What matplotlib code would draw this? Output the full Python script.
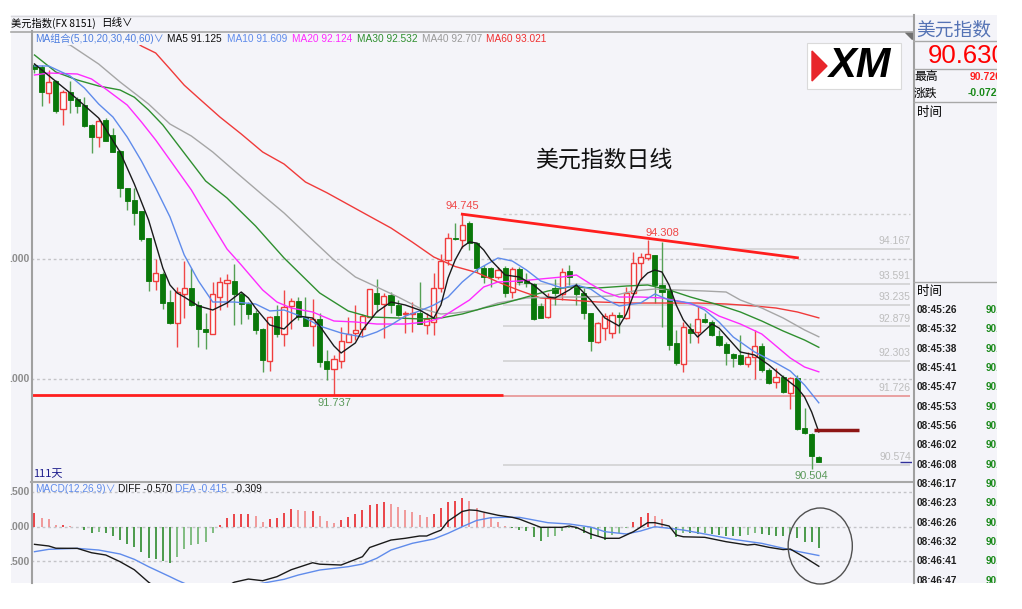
import matplotlib
matplotlib.use("Agg")
import matplotlib.pyplot as plt
from matplotlib.patches import Rectangle, Polygon, Ellipse

plt.rcParams['font.family'] = ['Liberation Sans', 'Noto Sans CJK SC', 'DejaVu Sans']
CJK = ['Noto Sans CJK SC', 'DejaVu Sans']

W, H = 1022, 609
BG = '#F4F4F9'

# ---------------- data ----------------
open_ = [97.225, 97.197, 96.765, 96.959, 96.489, 96.781, 96.660, 96.560, 96.228, 96.033,
         96.311, 96.062, 95.796, 95.175, 94.981, 94.798, 94.344, 93.639, 93.746, 93.280,
         92.941, 93.413, 93.523, 93.235, 92.836, 92.748, 93.363, 93.596, 93.639, 93.418,
         93.252, 93.097, 92.836, 92.309, 93.052, 92.753, 93.219, 93.302, 93.031, 92.886,
         92.998, 92.304, 92.166, 92.309, 92.625, 92.775, 92.831, 93.041, 93.440, 93.247,
         93.402, 93.235, 93.086, 93.086, 93.107, 92.903, 92.958, 93.523, 93.983, 94.357,
         94.316, 94.594, 94.261, 93.845, 93.850, 93.696, 93.845, 93.456, 93.829, 93.651,
         93.579, 93.219, 93.041, 93.513, 93.418, 93.801, 93.568, 93.430, 93.097, 92.625,
         92.848, 92.775, 93.069, 93.014, 93.430, 93.929, 94.012, 94.067, 93.568, 93.485,
         92.599, 92.254, 92.831, 92.791, 93.003, 92.958, 92.720, 92.587, 92.416, 92.404,
         92.254, 92.376, 92.554, 92.155, 91.950, 92.043, 91.767, 92.017, 91.185, 91.091,
         90.703]
high = [97.264, 97.225, 97.142, 96.970, 96.810, 96.964, 96.698, 96.698, 96.240, 96.339,
        96.339, 96.178, 95.812, 95.180, 95.175, 94.800, 94.350, 94.000, 93.789, 93.485,
        93.539, 93.972, 93.845, 93.302, 93.097, 93.623, 93.706, 93.751, 93.912, 93.456,
        93.290, 93.152, 92.848, 93.052, 93.235, 93.485, 93.357, 93.373, 93.363, 93.330,
        93.107, 92.487, 92.404, 92.874, 93.031, 93.235, 93.086, 93.500, 93.668, 93.440,
        93.456, 93.318, 93.140, 93.290, 93.613, 93.107, 93.762, 94.083, 94.427, 94.594,
        94.745, 94.637, 94.288, 93.900, 93.862, 93.872, 93.884, 93.872, 93.872, 93.762,
        93.596, 93.264, 93.430, 93.663, 93.845, 93.900, 93.596, 93.513, 93.107, 92.958,
        93.107, 93.124, 93.124, 93.539, 94.121, 94.095, 94.308, 94.070, 94.288, 93.513,
        92.820, 92.958, 92.931, 93.219, 93.097, 92.986, 92.820, 92.625, 92.442, 92.737,
        92.459, 92.820, 92.599, 92.183, 92.183, 92.071, 92.043, 92.071, 91.518, 91.102,
        90.720]
low = [97.097, 96.544, 96.589, 96.422, 96.223, 96.422, 96.422, 96.200, 95.757, 95.867,
       95.960, 95.780, 95.036, 94.815, 94.565, 94.304, 93.468, 93.485, 93.169, 92.925,
       92.532, 93.014, 93.224, 92.542, 92.499, 92.745, 93.152, 93.207, 92.903, 92.914,
       92.998, 92.753, 92.116, 92.143, 92.698, 92.554, 92.831, 92.986, 92.885, 92.554,
       92.209, 91.988, 91.737, 92.193, 92.620, 92.653, 92.708, 93.035, 93.124, 92.692,
       93.097, 93.052, 92.775, 92.791, 92.915, 92.753, 92.737, 93.456, 93.900, 94.316,
       94.178, 94.150, 93.789, 93.596, 93.539, 93.663, 93.363, 93.347, 93.568, 93.539,
       92.986, 93.014, 93.014, 93.235, 93.318, 93.568, 93.235, 92.998, 92.471, 92.599,
       92.653, 92.682, 92.765, 93.010, 93.425, 93.651, 93.983, 93.264, 92.874, 92.487,
       92.238, 92.126, 92.599, 92.609, 92.931, 92.720, 92.554, 92.238, 92.209, 92.238,
       92.209, 92.000, 92.126, 91.922, 91.850, 91.767, 91.501, 91.157, 91.091, 90.504,
       90.630]
close = [97.154, 96.776, 96.948, 96.461, 96.781, 96.643, 96.544, 96.211, 96.033, 96.299,
         95.967, 95.784, 95.175, 94.964, 94.770, 94.328, 93.634, 93.762, 93.264, 92.931,
         93.446, 93.513, 93.230, 92.831, 92.791, 93.418, 93.613, 93.651, 93.418, 93.247,
         93.086, 92.820, 92.321, 93.041, 92.753, 93.207, 93.302, 93.031, 92.891, 93.003,
         92.283, 92.171, 92.333, 92.637, 92.753, 92.820, 93.052, 93.496, 93.247, 93.385,
         93.235, 93.069, 93.097, 93.107, 92.919, 93.003, 93.523, 93.967, 94.344, 94.333,
         94.565, 94.271, 93.845, 93.696, 93.701, 93.817, 93.430, 93.829, 93.623, 93.596,
         92.998, 93.024, 93.373, 93.430, 93.789, 93.706, 93.418, 93.107, 92.642, 92.941,
         93.052, 93.069, 93.041, 93.440, 93.929, 94.038, 94.083, 93.568, 93.456, 92.570,
         92.266, 92.865, 92.775, 92.998, 92.958, 92.737, 92.570, 92.432, 92.349, 92.254,
         92.376, 92.554, 92.155, 91.934, 92.033, 91.794, 92.017, 91.169, 91.102, 90.725,
         90.630]

ma5_i = [0, 5, 9, 12, 14, 16, 18, 19, 20, 21, 23, 25, 27, 29, 30, 31, 33, 35, 36, 37,
         39, 40, 42, 43, 45, 46, 48, 50, 52, 54, 56, 57, 58, 59, 60, 61, 62, 63, 64, 66,
         68, 70, 72, 73, 75, 76, 78, 80, 82, 83, 84, 85, 86, 87, 88, 89, 90, 91, 93, 95,
         96, 97, 99, 101, 103, 105, 107, 108, 109, 110]
ma5_v = [97.242, 96.760, 96.344, 95.779, 95.247, 94.648, 93.850, 93.568, 93.435, 93.368,
         93.219, 93.152, 93.268, 93.451, 93.352, 93.185, 92.903, 92.836, 92.953, 93.052,
         93.019, 92.886, 92.554, 92.437, 92.604, 92.820, 93.119, 93.285, 93.235, 93.152,
         93.019, 93.235, 93.684, 93.983, 94.200, 94.283, 94.266, 94.150, 93.983, 93.734,
         93.701, 93.568, 93.368, 93.352, 93.485, 93.568, 93.318, 93.019, 92.886, 93.086,
         93.402, 93.651, 93.767, 93.817, 93.784, 93.568, 93.235, 92.986, 92.703, 92.919,
         92.853, 92.720, 92.454, 92.404, 92.238, 92.038, 91.855, 91.706, 91.456, 91.125]
ma10_i = [0, 2, 5, 7, 9, 11, 13, 15, 17, 19, 21, 23, 25, 28, 31, 33, 35, 38, 40, 43,
          46, 48, 50, 52, 54, 56, 58, 60, 62, 64, 65, 67, 69, 71, 74, 76, 78, 80, 82, 85,
          87, 89, 92, 94, 96, 98, 101, 104, 106, 108, 110]
ma10_v = [97.209, 97.209, 97.042, 96.843, 96.577, 96.361, 96.028, 95.629, 95.180, 94.700,
          94.067, 93.634, 93.285, 93.285, 93.252, 93.136, 93.152, 93.019, 92.886, 92.770,
          92.703, 92.786, 92.903, 93.052, 93.136, 93.235, 93.368, 93.618, 93.817, 93.950,
          94.017, 93.967, 93.817, 93.634, 93.518, 93.568, 93.501, 93.335, 93.219, 93.268,
          93.418, 93.318, 93.268, 93.152, 92.953, 92.703, 92.454, 92.271, 92.138, 91.905,
          91.609]
ma20_i = [0, 2, 6, 8, 10, 13, 15, 17, 19, 22, 24, 27, 29, 32, 34, 36, 39, 42, 45, 48,
          52, 55, 57, 59, 61, 63, 65, 68, 71, 74, 76, 78, 80, 82, 85, 88, 91, 94, 96, 99,
          102, 104, 106, 108, 110]
ma20_v = [97.059, 97.092, 97.076, 96.993, 96.826, 96.560, 96.278, 95.978, 95.646, 95.147,
          94.748, 94.166, 93.900, 93.485, 93.285, 93.185, 93.119, 92.969, 92.953, 92.919,
          92.919, 92.953, 93.019, 93.169, 93.318, 93.535, 93.618, 93.634, 93.668, 93.701,
          93.734, 93.584, 93.451, 93.368, 93.368, 93.352, 93.285, 93.185, 93.052, 92.919,
          92.753, 92.554, 92.354, 92.204, 92.124]
ma30_i = [0, 3, 6, 9, 12, 14, 16, 18, 21, 24, 27, 31, 35, 37, 40, 44, 47, 51, 54, 57,
          60, 63, 66, 69, 72, 75, 79, 83, 86, 89, 92, 96, 99, 102, 105, 108, 110]
ma30_v = [97.392, 97.109, 96.976, 96.876, 96.810, 96.690, 96.477, 96.228, 95.762, 95.297,
          95.014, 94.549, 94.017, 93.784, 93.435, 93.136, 93.036, 93.019, 93.003, 93.019,
          93.086, 93.185, 93.268, 93.368, 93.468, 93.535, 93.518, 93.551, 93.568, 93.485,
          93.368, 93.235, 93.119, 92.969, 92.803, 92.653, 92.532]
ma40_i = [0, 5, 9, 12, 16, 19, 22, 25, 28, 32, 35, 39, 42, 45, 48, 51, 54, 57, 59, 62,
          65, 69, 73, 77, 81, 84, 87, 90, 94, 97, 99, 102, 105, 108, 110]
ma40_v = [97.680, 97.558, 97.242, 96.943, 96.577, 96.244, 96.045, 95.779, 95.470, 95.064,
          94.765, 94.316, 93.983, 93.701, 93.535, 93.368, 93.185, 93.086, 93.102, 93.152,
          93.268, 93.352, 93.368, 93.368, 93.385, 93.468, 93.501, 93.485, 93.468, 93.451,
          93.318, 93.185, 93.019, 92.820, 92.707]
ma60_i = [10, 13, 15, 17, 19, 21, 23, 26, 29, 32, 35, 38, 41, 44, 47, 50, 53, 56, 59, 62,
          65, 68, 71, 75, 79, 84, 89, 93, 97, 101, 104, 107, 110]
ma60_v = [97.940, 97.707, 97.541, 97.425, 97.160, 96.890, 96.677, 96.361, 96.078, 95.779,
          95.579, 95.280, 95.102, 94.906, 94.710, 94.515, 94.280, 94.033, 93.875, 93.776,
          93.618, 93.476, 93.352, 93.318, 93.285, 93.268, 93.268, 93.268, 93.252, 93.219,
          93.185, 93.119, 93.021]

macd_hist = [0.202, 0.130, 0.106, 0.024, 0.024, 0.014, -0.005, -0.048, -0.086, -0.082,
             -0.086, -0.134, -0.192, -0.254, -0.298, -0.360, -0.456, -0.470, -0.495, -0.519,
             -0.432, -0.326, -0.264, -0.254, -0.216, -0.086, 0.024, 0.130, 0.182, 0.182,
             0.182, 0.154, 0.072, 0.110, 0.120, 0.202, 0.254, 0.240, 0.231, 0.231,
             0.154, 0.082, 0.058, 0.096, 0.134, 0.178, 0.240, 0.312, 0.326, 0.350,
             0.326, 0.279, 0.240, 0.207, 0.168, 0.144, 0.182, 0.264, 0.350, 0.375,
             0.418, 0.370, 0.274, 0.202, 0.144, 0.072, 0.005, -0.024, -0.048, -0.062,
             -0.154, -0.202, -0.154, -0.134, -0.062, -0.014, -0.034, -0.086, -0.178, -0.134,
             -0.192, -0.120, -0.086, -0.024, 0.062, 0.134, 0.192, 0.154, 0.106, -0.005,
             -0.144, -0.086, -0.086, -0.106, -0.096, -0.106, -0.120, -0.134, -0.134, -0.134,
             -0.120, -0.096, -0.106, -0.120, -0.134, -0.134, -0.106, -0.168, -0.216, -0.216,
             -0.309]
diff_i = [0, 2, 3, 6, 8, 10, 12, 14, 16, 17, 18, 19, 20, 21, 22, 23, 24, 25, 26, 27,
          28, 30, 32, 34, 36, 39, 40, 43, 46, 47, 50, 52, 54, 55, 56, 57, 58, 60, 61, 62,
          63, 65, 67, 68, 71, 74, 75, 76, 78, 80, 82, 84, 86, 87, 89, 90, 91, 94, 97, 100,
          101, 103, 105, 106, 108, 110]
diff_v = [-0.254, -0.278, -0.31, -0.312, -0.375, -0.408, -0.504, -0.62, -0.80, -0.87,
          -0.93, -0.98, -1.02, -1.04, -1.05, -1.05, -1.03, -0.99, -0.93, -0.86,
          -0.80, -0.754, -0.778, -0.720, -0.62, -0.519, -0.54, -0.552, -0.432, -0.30,
          -0.192, -0.167, -0.134, -0.134, -0.09, -0.05, 0.08, 0.22, 0.241, 0.235,
          0.21, 0.165, 0.135, 0.11, -0.009, -0.009, 0.01, -0.01, -0.105, -0.167,
          -0.167, -0.072, 0.058, 0.058, 0.01, -0.12, -0.145, -0.153, -0.216, -0.264,
          -0.254, -0.297, -0.33, -0.322, -0.44, -0.570]
dea_i = [0, 2, 6, 9, 12, 14, 16, 19, 20, 22, 24, 26, 28, 30, 32, 35, 37, 40, 44, 46,
         48, 50, 53, 56, 58, 60, 62, 64, 66, 68, 70, 72, 75, 78, 80, 83, 85, 87, 89, 91,
         94, 98, 102, 105, 107, 110]
dea_v = [-0.36, -0.326, -0.312, -0.336, -0.393, -0.47, -0.576, -0.72, -0.77, -0.86,
         -0.93, -0.94, -0.89, -0.845, -0.814, -0.758, -0.696, -0.624, -0.576, -0.538,
         -0.455, -0.336, -0.239, -0.177, -0.095, 0.0, 0.09, 0.13, 0.135, 0.135,
         0.097, 0.058, 0.039, -0.005, -0.072, -0.105, -0.062, 0.0, -0.023, -0.048,
         -0.105, -0.182, -0.24, -0.31, -0.355, -0.415]

fib_levels = [94.167, 93.591, 93.235, 92.879, 92.303, 91.726, 90.574]
fib_top = 94.745
support_level = 91.737
peak_idx, peak2_idx = 60, 88
peak2_label = 94.308
trough_idx = 109
trend_x = [60, 107]
trend_y = [94.745, 94.02]
mark_x = [109.3, 115.7]
mark_y = 91.157
last_price = 90.630
grid_prices = [94.0, 92.0]
macd_grid = [0.5, 0.0, -0.5]

ma_legend = [("MA组合(5,10,20,30,40,60)∨", '#4F7FE0'), ("MA5 91.125", '#111111'),
             ("MA10 91.609", '#5F8BEB'), ("MA20 92.124", '#FF2BFF'),
             ("MA30 92.532", '#2F8F2F'), ("MA40 92.707", '#9A9A9A'),
             ("MA60 93.021", '#F03030')]
macd_legend = [("MACD(12,26,9)∨", '#5F8BEB'), ("DIFF -0.570", '#111111'),
               ("DEA -0.415", '#5F8BEB'), ("-0.309", '#111111')]
tick_times = ["08:45:26", "08:45:32", "08:45:38", "08:45:41", "08:45:47", "08:45:53",
              "08:45:56", "08:46:02", "08:46:08", "08:46:17", "08:46:23", "08:46:26",
              "08:46:32", "08:46:41", "08:46:47"]

# ---------------- figure ----------------
fig = plt.figure(figsize=(W / 100, H / 100), dpi=100, facecolor='white')


def box(x0, y0, x1, y1):
    return [x0 / W, 1 - y1 / H, (x1 - x0) / W, (y1 - y0) / H]


bg = fig.add_axes([0, 0, 1, 1], zorder=0)
bg.set_xlim(0, W); bg.set_ylim(H, 0); bg.axis('off')
bg.add_patch(Rectangle((11, 15), 986, 568, facecolor=BG, edgecolor='none'))

ax = fig.add_axes(box(31, 45, 912, 481), zorder=1)
mac = fig.add_axes(box(31, 482, 912, 583), zorder=1)
for a in (ax, mac):
    a.set_facecolor('none')
    for s in a.spines.values():
        s.set_visible(False)
    a.set_xticks([]); a.set_yticks([])
    a.set_xlim(-0.49, 123.07)
ax.set_ylim(90.309, 97.558)
mac.set_ylim(-0.811, 0.644)

# grid
for g in grid_prices:
    ax.axhline(g, color='#C4C4C8', lw=1, ls=(0, (2, 2)), zorder=1)
for g in macd_grid:
    mac.axhline(g, color='#C4C4C8', lw=1, ls=(0, (2, 2)), zorder=1)

# fib lines
fx0, fx1 = 65.7, 122.8
ax.hlines(fib_top, fx0, fx1, color='#CDCDCD', lw=1, ls=(0, (2, 2)), zorder=1)
for lv in fib_levels:
    col = '#E89A9A' if abs(lv - support_level) < 0.05 else '#D4D4D6'
    ax.hlines(lv, fx0, fx1, color=col, lw=1.3, zorder=1)
    ax.annotate(f"{lv:.3f}", xy=(fx1 + 0.1, lv), xytext=(0, 2), textcoords='offset points',
                ha='right', va='bottom', color='#BDBDBD', fontsize=7.5, zorder=2)

# candles
n = len(close)
for i in range(n):
    o, h, l, c = open_[i], high[i], low[i], close[i]
    up = c >= o
    ax.vlines(i, l, h, color='#F04848' if up else '#55A055', lw=1, zorder=2)
    b = min(o, c)
    ht = max(abs(c - o), 0.012)
    if up:
        ax.add_patch(Rectangle((i - 0.36, b), 0.72, ht, facecolor='#FBFBFD',
                               edgecolor='#F03C3C', lw=1, zorder=3))
    else:
        ax.add_patch(Rectangle((i - 0.36, b), 0.72, ht, facecolor='#0A780A',
                               edgecolor='#0A780A', lw=0.6, zorder=3))

# moving averages
ax.plot(ma60_i, ma60_v, color='#F03A3A', lw=1, zorder=4)
ax.plot(ma40_i, ma40_v, color='#A6A6A6', lw=1, zorder=4)
ax.plot(ma30_i, ma30_v, color='#2F8F2F', lw=1, zorder=4)
ax.plot(ma20_i, ma20_v, color='#FF2BFF', lw=1, zorder=4)
ax.plot(ma10_i, ma10_v, color='#5F8BEB', lw=1, zorder=4)
ax.plot(ma5_i, ma5_v, color='#1A1A1A', lw=1, zorder=4)

# support / trend / markers
ax.hlines(support_level, -0.49, fx0, color='#FF1E1E', lw=2, zorder=5)
ax.plot(trend_x, trend_y, color='#FF1E1E', lw=2, zorder=5)
ax.hlines(mark_y, mark_x[0], mark_x[1], color='#8E1515', lw=2.5, zorder=5)
ax.hlines(last_price, 121.4, 123.07, color='#30309A', lw=1, zorder=5)

ax.annotate(f"{high[peak_idx]:.3f}", xy=(peak_idx, high[peak_idx]), xytext=(0, 2),
            textcoords='offset points', ha='center', va='bottom', color='#F04848', fontsize=8)
ax.annotate(f"{peak2_label:.3f}", xy=(peak2_idx, peak2_label), xytext=(0, 2),
            textcoords='offset points', ha='center', va='bottom', color='#F04848', fontsize=8)
ax.annotate(f"{support_level:.3f}", xy=(42, support_level), xytext=(0, -2),
            textcoords='offset points', ha='center', va='top', color='#5C9A5C', fontsize=8)
ax.annotate(f"{low[trough_idx]:.3f}", xy=(trough_idx, low[trough_idx]), xytext=(0, -1),
            textcoords='offset points', ha='center', va='top', color='#5C9A5C', fontsize=8)

# MACD
for i, hv in enumerate(macd_hist):
    prev = macd_hist[i - 1] if i > 0 else hv
    if hv >= 0:
        col = '#E8262B' if hv >= prev else '#F08A8A'
    else:
        col = '#2E8B2E' if hv <= prev else '#6DB36D'
    mac.vlines(i, 0, hv, color=col, lw=1.2, zorder=2)
mac.plot(dea_i, dea_v, color='#5F8BEB', lw=1, zorder=3)
mac.plot(diff_i, diff_v, color='#1A1A1A', lw=1, zorder=3)
mac.add_patch(Ellipse((110.2, -0.278), 9.0, 1.095, fill=False, edgecolor='#505050',
                      lw=1, clip_on=False, zorder=4))

# ---------------- overlay (pixel coords) ----------------
ov = fig.add_axes([0, 0, 1, 1], zorder=3)
ov.set_xlim(0, W); ov.set_ylim(H, 0); ov.axis('off')

ov.plot([11, 913], [15.5, 15.5], color='#D8D8DC', lw=1)
ov.plot([11, 913], [31.5, 31.5], color='#A8A8A8', lw=1.2)
ov.plot([31.5, 31.5], [31, 583], color='#A0A0A0', lw=1.5)
ov.plot([31, 912], [481.5, 481.5], color='#A8A8A8', lw=1.5)
ov.plot([913.5, 913.5], [15, 583], color='#A0A0A0', lw=1.5)
ov.add_patch(Polygon([(905, 32), (912, 32), (912, 39)], closed=True, color='#707070'))

ov.text(11, 23, "美元指数(FX 8151)", fontsize=7.4, va='center', family=CJK)
ov.text(101, 23, "日线∨", fontsize=7.6, va='center', family=CJK)

leg_x = [35, 167, 227, 292, 357, 421.5, 486.5]
for (s, col), x in zip(ma_legend, leg_x):
    ov.text(x, 38.5, s, color=col, fontsize=7.3, va='center')
mleg_x = [35, 118, 175, 234]
for (s, col), x in zip(macd_legend, mleg_x):
    ov.text(x, 489.5, s, color=col, fontsize=7.3, va='center')

for yy in (259, 379):
    ov.text(29, yy, ".000", color='#8C8C8C', fontsize=7.5, weight='bold', ha='right', va='center')
for yy, s in ((492, ".500"), (527, ".000"), (562, ".500")):
    ov.text(29, yy, s, color='#8C8C8C', fontsize=7.5, weight='bold', ha='right', va='center')

ov.text(33, 474, "111天", color='#1C1C8C', fontsize=8, va='center', family=CJK)
ov.text(604, 160, "美元指数日线", fontsize=16.5, ha='center', va='center', color='#111111', family=CJK)

# XM logo
ov.add_patch(Rectangle((807, 43), 94, 46, facecolor='white', edgecolor='#DADADA', lw=0.8))
ov.add_patch(Polygon([(812, 51), (827, 66), (812, 81)], closed=True, color='#E8262B'))
ov.text(860, 66, "XM", fontsize=30, weight='bold', style='italic', ha='center', va='center',
        color='black')

# right quote panel
rp = fig.add_axes(box(913, 15, 997, 583), zorder=4)
rp.set_xlim(913, 997); rp.set_ylim(583, 15); rp.axis('off')
for yy in (41, 69, 102, 282):
    rp.plot([913, 997], [yy, yy], color='#A8A8A8', lw=1)
rp.text(916, 30, "美元指数", color='#5573B5', fontsize=13.5, va='center', family=CJK, clip_on=True)
rp.text(928, 56, "90.630", color='#FF0000', fontsize=18.5, va='center', clip_on=True)
rp.text(914, 77, "最高", fontsize=8.5, va='center', family=CJK, clip_on=True)
rp.text(970, 77, "90.720", color='#FF2020', fontsize=7.5, weight='bold', va='center', clip_on=True)
rp.text(914, 93, "涨跌", fontsize=8.5, va='center', family=CJK, clip_on=True)
rp.text(968, 93, "-0.072", color='#1A8A1A', fontsize=7.5, weight='bold', va='center', clip_on=True)
rp.text(917, 113, "时间", fontsize=9, va='center', family=CJK, clip_on=True)
rp.text(917, 292, "时间", fontsize=9, va='center', family=CJK, clip_on=True)
for k, t in enumerate(tick_times):
    yy = 310 + k * 19.33
    rp.text(917, yy, t, fontsize=7.2, weight='bold', color='#202020', va='center', clip_on=True)
    rp.text(986, yy, "90.63", fontsize=7.2, weight='bold', color='#1A8A1A', va='center', clip_on=True)

fig.savefig("out.png", dpi=100, facecolor='white')
